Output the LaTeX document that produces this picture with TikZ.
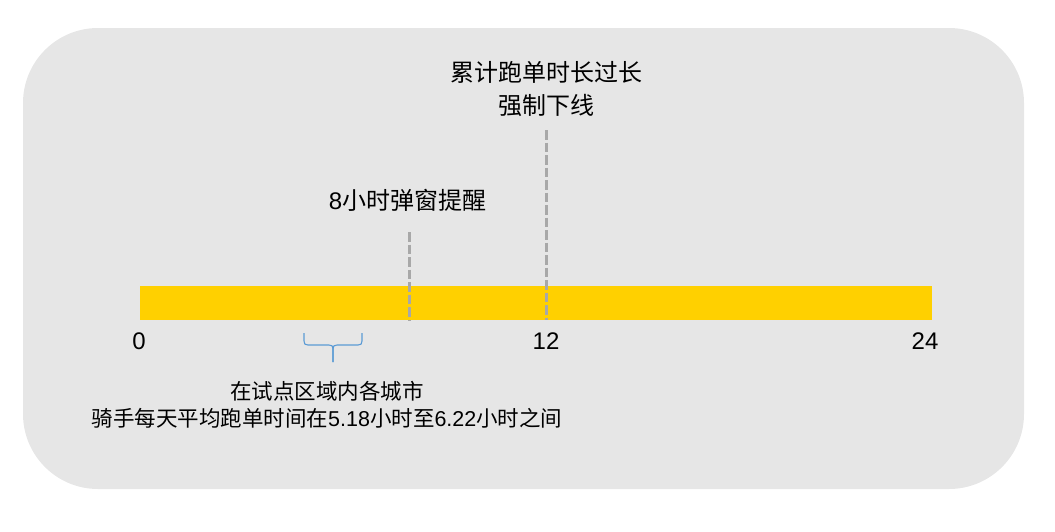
\documentclass[tikz,border=0pt]{standalone}
\usepackage{fontspec}
\setmainfont{Liberation Sans}
\newfontfamily\cjk{Noto Sans CJK SC}
\usepackage{tikz}
\usetikzlibrary{positioning}
\definecolor{backgray}{HTML}{E6E6E6}
\definecolor{baryellow}{HTML}{FFD000}
\definecolor{markgray}{HTML}{A8A8A8}
\definecolor{braceblue}{HTML}{5B9BD5}
\begin{document}
\begin{tikzpicture}
  [
    x=1pt, y=-1pt,
    Back/.style={fill=backgray, rounded corners=75pt},
    Bar/.style={rectangle, fill=baryellow, inner sep=0pt, minimum width=792pt, minimum height=34pt},
    Mark/.style={draw=markgray, line width=3pt, dash pattern=on 9.5pt off 3pt},
    Brace/.style={draw=braceblue, line width=1.1pt},
    Tick/.style={inner sep=0pt, font=\fontsize{24pt}{28pt}\selectfont},
    Note/.style={align=center, inner sep=0pt, font=\fontsize{24pt}{33pt}\selectfont\cjk},
    Small/.style={align=center, inner sep=0pt, font=\fontsize{21.5pt}{27pt}\selectfont}
  ]
  \useasboundingbox (0,0) rectangle (1055,531);
  \path[Back] (23,28) rectangle (1024,489);
  % Nodes
  \node[Bar] (bar) at (536,303) {};
  \node[Tick] (t0) at (139,341) {0};
  \node[Tick] (t12) at (546,341) {12};
  \node[Tick] (t24) at (925,341) {24};
  \node[Note] (limit) at (546.5,89) {累计跑单时长过长\\强制下线};
  \node[Note] (popup) at (407.5,200) {{\fontspec{Liberation Sans}8}小时弹窗提醒};
  \node[Small] (avg) at (327,405) {{\cjk 在试点区域内各城市}\\{\cjk 骑手每天平均跑单时间在}5.18{\cjk 小时至}6.22{\cjk 小时之间}};
  \coordinate (m8top) at (409,232);
  \coordinate (m8) at (409,320);
  \coordinate (m12top) at (546,130);
  \coordinate (m12) at (546,320);
  \coordinate (bl) at (304,333);
  \coordinate (br) at (362,333);
  \coordinate (btip) at (333,362);
  % Lines
  \path [Mark] (m8top) -- (m8);
  \path [Mark] (m12top) -- (m12);
  \path [Brace] (bl) -- ++(0,8) .. controls +(0,3) and +(-3,0) .. ++(4,4) -- ++(21,0) .. controls +(3,0) and +(0,-3) .. ++(4,4) -- (btip);
  \path [Brace] (br) -- ++(0,8) .. controls +(0,3) and +(3,0) .. ++(-4,4) -- ++(-21,0) .. controls +(-3,0) and +(0,-3) .. ++(-4,4) -- (btip);
\end{tikzpicture}
\end{document}
